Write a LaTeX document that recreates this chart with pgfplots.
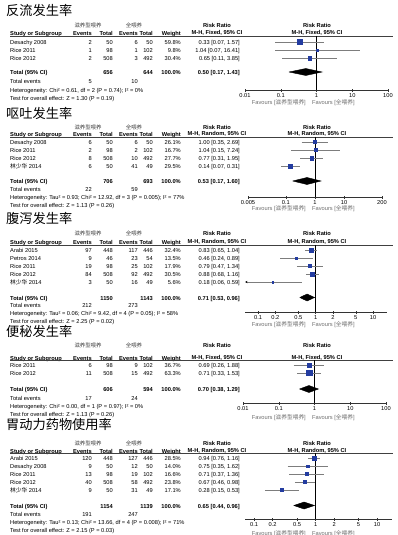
\documentclass[border=0pt]{standalone}
\usepackage{fontspec}
\setmainfont{Liberation Sans}
\newfontfamily\cjk{Noto Sans CJK SC}
\usepackage{pgfplots}
\pgfplotsset{compat=1.18}
\usetikzlibrary{arrows.meta}
\definecolor{rmblue}{RGB}{35,60,160}
\definecolor{cigray}{RGB}{125,125,125}
\definecolor{favgray}{RGB}{110,110,110}
\newcommand\fs{\fontsize{5.7}{6.5}\selectfont}
\newcommand\hd{\fontsize{5.4}{6.5}\selectfont\cjk}
\newcommand\ttl{\fontsize{13.2}{14}\selectfont\cjk}
\newcommand\trow[8]{%
 \node[anchor=mid west] at (10,#1) {#2};
 \node[anchor=mid east] at (92,#1) {#3};
 \node[anchor=mid east] at (113,#1) {#4};
 \node[anchor=mid east] at (138,#1) {#5};
 \node[anchor=mid east] at (153,#1) {#6};
 \node[anchor=mid east] at (181,#1) {#7};
 \node[anchor=mid east] at (240,#1) {#8};}
\newcommand\thead[6]{%
 \node[anchor=mid west] at (6,#1) {\ttl #2};
 \node[text=black!75] at (88,#3) {\hd 滋养型喂养};
 \node[text=black!75] at (134,#3) {\hd 全喂养};
 \node at (217,#3) {\bfseries Risk Ratio};
 \node at (317,#3) {\bfseries Risk Ratio};
 \node[anchor=mid west] at (10,#4) {\bfseries Study or Subgroup};
 \node[anchor=mid east] at (92,#4) {\bfseries Events};
 \node[anchor=mid east] at (113,#4) {\bfseries Total};
 \node[anchor=mid east] at (138,#4) {\bfseries Events};
 \node[anchor=mid east] at (153,#4) {\bfseries Total};
 \node[anchor=mid east] at (181,#4) {\bfseries Weight};
 \node at (217,#4) {\bfseries M-H, #6, 95\% CI};
 \node at (317,#4) {\bfseries M-H, #6, 95\% CI};
 \draw[line width=0.6pt, black!75] (10,#5) -- (393,#5);}
\newcommand\ttotal[4]{%
 \node[anchor=mid west] at (10,#1) {\bfseries Total (95\% CI)};
 \node[anchor=mid east] at (113,#1) {\bfseries #2};
 \node[anchor=mid east] at (153,#1) {\bfseries #3};
 \node[anchor=mid east] at (181,#1) {\bfseries 100.0\%};
 \node[anchor=mid east] at (240,#1) {\bfseries #4};}
\newcommand\tfoot[7]{%
 \node[anchor=mid west] at (10,#1) {Total events};
 \node[anchor=mid east] at (92,#1) {#2};
 \node[anchor=mid east] at (138,#1) {#3};
 \node[anchor=mid west] at (10,#4) {#5};
 \node[anchor=mid west] at (10,#6) {#7};}
\newcommand\fav[1]{%
 \node[anchor=mid east,text=favgray] at (306,#1) {Favours [{\cjk 滋养型喂养}]};
 \node[anchor=mid west,text=favgray] at (312,#1) {Favours [{\cjk 全喂养}]};}
\newcommand\study[5]{%
 \addplot[cigray, line width=0.6pt] coordinates {(#2,#4) (#3,#4)};
 \addplot[only marks, mark=square*, mark size=#5pt, rmblue] coordinates {(#1,#4)};}
\pgfplotsset{/pgfplots/fplot/.style={scale only axis, anchor=south west,
  axis x line=bottom, axis y line=none, x axis line style={-, black!80, line width=0.6pt},
  tick align=center, major tick length=3pt, xminorticks=false, clip=false,
  every tick/.style={black!80, line width=0.5pt},
  xticklabel style={font=\fs, inner sep=0pt, yshift=-1.5pt}}}
\begin{document}
\begin{tikzpicture}
\path[use as bounding box] (0pt,0pt) rectangle (397pt,-535pt);
\begin{scope}[x=1pt,y=-1pt,every node/.style={inner sep=0pt,font=\fs}]
% panel 1
\thead{13}{反流发生率}{25}{33}{36}{Fixed}
\trow{42}{Desachy 2008}{2}{50}{6}{50}{59.8\%}{0.33 [0.07, 1.57]}
\trow{50}{Rice 2011}{1}{98}{1}{102}{9.8\%}{1.04 [0.07, 16.41]}
\trow{58}{Rice 2012}{2}{508}{3}{492}{30.4\%}{0.65 [0.11, 3.85]}
\ttotal{72}{656}{644}{0.50 [0.17, 1.43]}
\tfoot{81}{5}{10}{90}{Heterogeneity: Chi² = 0.61, df = 2 (P = 0.74); I² = 0\%}{98}{Test for overall effect: Z = 1.30 (P = 0.19)}
\fav{102}
% panel 2
\thead{116}{呕吐发生率}{127}{134}{137}{Random}
\trow{142}{Desachy 2008}{6}{50}{6}{50}{26.1\%}{1.00 [0.35, 2.69]}
\trow{150}{Rice 2011}{2}{98}{2}{102}{16.7\%}{1.04 [0.15, 7.24]}
\trow{158}{Rice 2012}{8}{508}{10}{492}{27.7\%}{0.77 [0.31, 1.95]}
\trow{166}{{\cjk 林少华} 2014}{6}{50}{41}{49}{29.5\%}{0.14 [0.07, 0.31]}
\ttotal{181}{706}{693}{0.53 [0.17, 1.60]}
\tfoot{189}{22}{59}{197}{Heterogeneity: Tau² = 0.93; Chi² = 12.92, df = 3 (P = 0.005); I² = 77\%}{205}{Test for overall effect: Z = 1.13 (P = 0.26)}
\fav{208}
% panel 3
\thead{221}{腹泻发生率}{233}{242}{245}{Random}
\trow{250}{Arabi 2015}{97}{448}{117}{446}{32.4\%}{0.83 [0.65, 1.04]}
\trow{258}{Petros 2014}{9}{46}{23}{54}{13.5\%}{0.46 [0.24, 0.89]}
\trow{266}{Rice 2011}{19}{98}{25}{102}{17.9\%}{0.79 [0.47, 1.34]}
\trow{274}{Rice 2012}{84}{508}{92}{492}{30.5\%}{0.88 [0.68, 1.16]}
\trow{282}{{\cjk 林少华} 2014}{3}{50}{16}{49}{5.6\%}{0.18 [0.06, 0.59]}
\ttotal{297.5}{1150}{1143}{0.71 [0.53, 0.96]}
\tfoot{305}{212}{273}{313}{Heterogeneity: Tau² = 0.06; Chi² = 9.42, df = 4 (P = 0.05); I² = 58\%}{321}{Test for overall effect: Z = 2.25 (P = 0.02)}
\fav{324}
% panel 4
\thead{334}{便秘发生率}{345}{357.5}{360}{Fixed}
\trow{365}{Rice 2011}{6}{98}{9}{102}{36.7\%}{0.69 [0.26, 1.88]}
\trow{373}{Rice 2012}{11}{508}{15}{492}{63.3\%}{0.71 [0.33, 1.53]}
\ttotal{389}{606}{594}{0.70 [0.38, 1.29]}
\tfoot{398}{17}{24}{406}{Heterogeneity: Chi² = 0.00, df = 1 (P = 0.97); I² = 0\%}{414}{Test for overall effect: Z = 1.13 (P = 0.26)}
\fav{417}
% panel 5
\thead{427}{胃动力药物使用率}{443}{450.5}{453}{Random}
\trow{458}{Arabi 2015}{120}{448}{127}{446}{28.5\%}{0.94 [0.76, 1.16]}
\trow{466}{Desachy 2008}{9}{50}{12}{50}{14.0\%}{0.75 [0.35, 1.62]}
\trow{474}{Rice 2011}{13}{98}{19}{102}{16.6\%}{0.71 [0.37, 1.36]}
\trow{482}{Rice 2012}{40}{508}{58}{492}{23.8\%}{0.67 [0.46, 0.98]}
\trow{490}{{\cjk 林少华} 2014}{9}{50}{31}{49}{17.1\%}{0.28 [0.15, 0.53]}
\ttotal{505.5}{1154}{1139}{0.65 [0.44, 0.96]}
\tfoot{514}{191}{247}{522}{Heterogeneity: Tau² = 0.13; Chi² = 13.66, df = 4 (P = 0.008); I² = 71\%}{530}{Test for overall effect: Z = 2.15 (P = 0.03)}
\fav{532.5}
\end{scope}
% forest 1
\begin{axis}[xmode=log, fplot, at={(245pt,-90pt)}, width=143pt, height=54pt, xmin=0.01, xmax=100, ymin=-90, ymax=-36,
  xtick={0.01,0.1,1,10,100}, xticklabels={0.01,0.1,1,10,100}]
\addplot[black, line width=0.6pt] coordinates {(1,-36) (1,-90)};
\study{0.33}{0.07}{1.57}{-42}{2.55}
\study{1.04}{0.07}{16.41}{-50}{1.03}
\study{0.65}{0.11}{3.85}{-58}{1.82}
\addplot[fill=black, draw=black] coordinates {(0.17,-72) (0.50,-68.5) (1.43,-72) (0.50,-75.5) (0.17,-72)};
\end{axis}
% forest 2
\begin{axis}[xmode=log, fplot, at={(248pt,-197pt)}, width=134pt, height=60pt, xmin=0.005, xmax=200, ymin=-197, ymax=-137,
  xtick={0.005,0.1,1,10,200}, xticklabels={0.005,0.1,1,10,200}]
\addplot[black, line width=0.6pt] coordinates {(1,-137) (1,-197)};
\study{1.00}{0.35}{2.69}{-142}{1.69}
\study{1.04}{0.15}{7.24}{-150}{1.35}
\study{0.77}{0.31}{1.95}{-158}{1.74}
\study{0.14}{0.07}{0.31}{-166}{1.79}
\addplot[fill=black, draw=black] coordinates {(0.17,-181) (0.53,-177.5) (1.60,-181) (0.53,-184.5) (0.17,-181)};
\end{axis}
% forest 3
\begin{axis}[xmode=log, fplot, at={(245pt,-312pt)}, width=142pt, height=67pt, xmin=0.059, xmax=17.5, ymin=-312, ymax=-245,
  xtick={0.1,0.2,0.5,1,2,5,10}, xticklabels={0.1,0.2,0.5,1,2,5,10}]
\addplot[black, line width=0.6pt] coordinates {(1,-245) (1,-312)};
\study{0.83}{0.65}{1.04}{-250}{1.88}
\study{0.46}{0.24}{0.89}{-258}{1.21}
\study{0.79}{0.47}{1.34}{-266}{1.40}
\study{0.88}{0.68}{1.16}{-274}{1.82}
\addplot[cigray, line width=0.6pt, {Stealth[length=2.5pt,width=2.2pt,black]}-] coordinates {(0.059,-282) (0.59,-282)};
\addplot[only marks, mark=square*, mark size=0.78pt, rmblue] coordinates {(0.18,-282)};
\addplot[fill=black, draw=black] coordinates {(0.53,-297.5) (0.71,-294) (0.96,-297.5) (0.71,-301) (0.53,-297.5)};
\end{axis}
% forest 4
\begin{axis}[xmode=log, fplot, at={(243pt,-403pt)}, width=143pt, height=43pt, xmin=0.01, xmax=100, ymin=-403, ymax=-360,
  xtick={0.01,0.1,1,10,100}, xticklabels={0.01,0.1,1,10,100}]
\addplot[black, line width=0.6pt] coordinates {(1,-360) (1,-403)};
\study{0.69}{0.26}{1.88}{-365}{2.0}
\study{0.71}{0.33}{1.53}{-373}{2.63}
\addplot[fill=black, draw=black] coordinates {(0.38,-389) (0.70,-385.5) (1.29,-389) (0.70,-392.5) (0.38,-389)};
\end{axis}
% forest 5
\begin{axis}[xmode=log, fplot, at={(245pt,-519pt)}, width=147pt, height=66pt, xmin=0.071, xmax=17.5, ymin=-519, ymax=-453,
  xtick={0.1,0.2,0.5,1,2,5,10}, xticklabels={0.1,0.2,0.5,1,2,5,10}]
\addplot[black, line width=0.6pt] coordinates {(1,-453) (1,-519)};
\study{0.94}{0.76}{1.16}{-458}{1.76}
\study{0.75}{0.35}{1.62}{-466}{1.23}
\study{0.71}{0.37}{1.36}{-474}{1.34}
\study{0.67}{0.46}{0.98}{-482}{1.61}
\study{0.28}{0.15}{0.53}{-490}{1.37}
\addplot[fill=black, draw=black] coordinates {(0.44,-505.5) (0.65,-502) (0.96,-505.5) (0.65,-509) (0.44,-505.5)};
\end{axis}
\end{tikzpicture}
\end{document}
